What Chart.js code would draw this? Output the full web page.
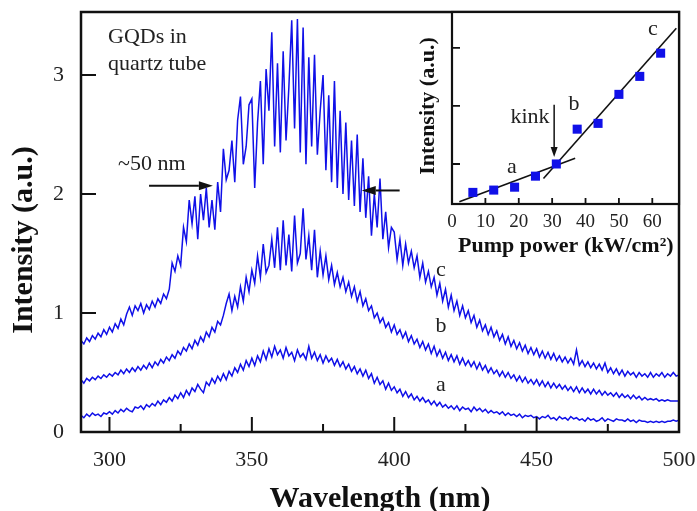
<!DOCTYPE html>
<html><head><meta charset="utf-8">
<script src="https://cdn.jsdelivr.net/npm/chart.js@4.4.1/dist/chart.umd.min.js"></script>
<style>
html,body{margin:0;padding:0;background:#fff;}
#wrap{position:relative;width:697px;height:511px;overflow:hidden;}
#main{position:absolute;left:0;top:0;}
#inset{position:absolute;left:400px;top:0;}
</style></head><body>
<div id="wrap"><canvas id="main" width="697" height="511"></canvas><canvas id="inset" width="297" height="260"></canvas></div>
<script>
// ---- data ----
const wavelengths = [];
for (let w = 290; w <= 500; w++) wavelengths.push(w);

const seriesA = [
0.14,0.12,0.15,0.13,0.16,0.14,0.15,0.13,0.16,0.15,
0.17,0.15,0.18,0.16,0.19,0.17,0.20,0.18,0.17,0.21,
0.20,0.22,0.19,0.23,0.21,0.24,0.22,0.26,0.23,0.27,
0.25,0.29,0.26,0.31,0.28,0.33,0.29,0.35,0.31,0.37,
0.34,0.40,0.36,0.33,0.42,0.39,0.45,0.41,0.47,0.43,
0.49,0.44,0.51,0.47,0.54,0.50,0.57,0.52,0.60,0.55,
0.62,0.56,0.64,0.59,0.68,0.61,0.70,0.63,0.72,0.65,
0.69,0.62,0.71,0.64,0.67,0.60,0.69,0.63,0.66,0.61,
0.72,0.62,0.67,0.60,0.65,0.58,0.64,0.59,0.62,0.56,
0.61,0.55,0.59,0.53,0.57,0.51,0.55,0.49,0.53,0.47,
0.52,0.45,0.49,0.41,0.46,0.40,0.43,0.36,0.41,0.35,
0.38,0.33,0.36,0.30,0.34,0.29,0.32,0.27,0.30,0.26,
0.29,0.25,0.27,0.23,0.26,0.22,0.25,0.21,0.23,0.20,
0.22,0.19,0.22,0.18,0.21,0.19,0.20,0.17,0.21,0.18,
0.20,0.17,0.19,0.16,0.18,0.16,0.17,0.15,0.17,0.14,
0.16,0.14,0.15,0.13,0.15,0.12,0.14,0.13,0.14,0.12,
0.13,0.11,0.13,0.12,0.14,0.11,0.12,0.10,0.13,0.11,
0.12,0.10,0.13,0.11,0.12,0.10,0.11,0.09,0.12,0.10,
0.11,0.09,0.10,0.12,0.09,0.11,0.10,0.09,0.11,0.10,
0.10,0.09,0.11,0.09,0.10,0.08,0.10,0.09,0.09,0.08,
0.09,0.08,0.09,0.08,0.09,0.08,0.09,0.09,0.10,0.09,
0.10];

const seriesB = [
0.44,0.41,0.45,0.43,0.46,0.44,0.47,0.45,0.48,0.46,
0.49,0.47,0.50,0.48,0.52,0.49,0.53,0.50,0.54,0.51,
0.55,0.52,0.56,0.53,0.58,0.54,0.59,0.56,0.61,0.58,
0.63,0.60,0.65,0.62,0.68,0.65,0.71,0.68,0.74,0.70,
0.77,0.73,0.80,0.76,0.84,0.80,0.88,0.84,0.93,0.90,
0.98,1.08,1.16,1.02,1.14,1.05,1.22,1.10,1.30,1.18,
1.36,1.25,1.48,1.30,1.58,1.34,1.40,1.62,1.38,1.72,
1.36,1.78,1.40,1.66,1.35,1.82,1.42,1.50,1.88,1.45,
1.65,1.36,1.70,1.30,1.52,1.32,1.48,1.28,1.40,1.24,
1.34,1.22,1.30,1.18,1.26,1.14,1.22,1.10,1.18,1.06,
1.12,1.02,1.06,0.96,1.00,0.92,0.96,0.88,0.92,0.84,
0.90,0.82,0.86,0.79,0.84,0.76,0.81,0.74,0.78,0.71,
0.76,0.69,0.74,0.66,0.72,0.64,0.69,0.62,0.67,0.60,
0.65,0.59,0.64,0.57,0.62,0.56,0.60,0.55,0.59,0.53,
0.58,0.52,0.56,0.50,0.54,0.49,0.52,0.47,0.51,0.46,
0.50,0.45,0.48,0.43,0.47,0.42,0.46,0.41,0.44,0.40,
0.44,0.39,0.43,0.38,0.42,0.37,0.41,0.37,0.40,0.36,
0.39,0.35,0.38,0.34,0.38,0.33,0.37,0.33,0.36,0.32,
0.36,0.32,0.35,0.31,0.34,0.31,0.33,0.30,0.33,0.29,
0.32,0.29,0.31,0.28,0.31,0.28,0.30,0.27,0.29,0.27,
0.28,0.27,0.28,0.26,0.27,0.26,0.27,0.26,0.26,0.26,
0.26];

const seriesC = [
0.77,0.74,0.79,0.76,0.81,0.78,0.83,0.80,0.86,0.82,
0.88,0.84,0.91,0.87,0.95,0.90,0.99,1.05,0.98,1.06,
1.02,1.08,1.00,1.07,1.03,1.10,1.05,1.12,1.08,1.16,
1.12,1.20,1.42,1.35,1.48,1.40,1.72,1.60,1.95,1.75,
1.98,1.62,2.00,1.78,2.05,1.72,1.95,1.70,2.10,1.85,
2.38,2.12,2.20,2.45,2.10,2.62,2.82,2.25,2.40,2.75,
2.80,2.05,2.60,2.95,2.25,3.05,2.70,3.36,2.40,3.10,
2.35,3.20,2.45,2.90,3.46,2.55,3.47,2.35,3.40,2.25,
3.15,2.40,3.17,2.33,2.70,3.00,2.20,2.83,2.10,2.95,
2.05,2.70,2.00,2.60,1.95,2.45,1.90,2.50,1.85,2.30,
1.80,2.15,1.65,2.00,1.72,2.13,1.62,1.85,1.55,1.72,
1.68,1.45,1.62,1.40,1.58,1.42,1.52,1.38,1.48,1.30,
1.42,1.26,1.35,1.22,1.30,1.15,1.25,1.10,1.20,1.05,
1.15,1.02,1.10,0.98,1.06,0.96,1.02,0.92,0.98,0.88,
0.94,0.85,0.90,0.82,0.88,0.80,0.85,0.77,0.82,0.74,
0.80,0.72,0.77,0.70,0.75,0.68,0.73,0.66,0.71,0.65,
0.70,0.63,0.68,0.62,0.67,0.61,0.66,0.60,0.64,0.59,
0.63,0.58,0.62,0.57,0.69,0.56,0.60,0.55,0.59,0.54,
0.58,0.53,0.57,0.52,0.58,0.50,0.54,0.49,0.53,0.48,
0.52,0.47,0.51,0.48,0.50,0.46,0.50,0.47,0.49,0.46,
0.50,0.46,0.49,0.47,0.50,0.46,0.49,0.47,0.50,0.47,
0.48];

const mainXTicks = [300, 350, 400, 450, 500];
const mainXMinorTicks = [325, 375, 425, 475];
const mainYTicks = [0, 1, 2, 3];

const pumpPower = [6.25, 12.5, 18.75, 25, 31.25, 37.5, 43.75, 50, 56.25, 62.5];
const insetIntensity = [0.51, 0.55, 0.60, 0.79, 1.00, 1.60, 1.70, 2.20, 2.51, 2.91];
const fitLowX = [2.2, 36.9];
const fitLowY = [0.35, 1.10];
const fitHighX = [27.4, 67.2];
const fitHighY = [0.75, 3.34];
const insetXTicks = [0, 10, 20, 30, 40, 50, 60];
const insetYTicks = [1, 2, 3];

// ---- drawing ----
const BLUE = 'rgb(16,16,232)';
const SERIF = '"Liberation Serif", "Times New Roman", serif';
const pts = (xs, ys) => xs.map((x, i) => ({x: x, y: ys[i]}));
function noPad(s) { s.paddingTop = 0; s.paddingBottom = 0; s.paddingLeft = 0; s.paddingRight = 0; }

function arrow(ctx, x1, y1, x2, y2, len, half) {
  const a = Math.atan2(y2 - y1, x2 - x1);
  const bx = x2 - len * Math.cos(a), by = y2 - len * Math.sin(a);
  ctx.beginPath(); ctx.moveTo(x1, y1); ctx.lineTo(bx, by); ctx.stroke();
  ctx.beginPath();
  ctx.moveTo(x2, y2);
  ctx.lineTo(bx + half * Math.sin(a), by - half * Math.cos(a));
  ctx.lineTo(bx - half * Math.sin(a), by + half * Math.cos(a));
  ctx.closePath(); ctx.fill();
}

const mainDecor = {
  id: 'mainDecor',
  afterDraw(chart) {
    const ctx = chart.ctx, ca = chart.chartArea;
    const xs = chart.scales.x, ys = chart.scales.y;
    ctx.save();
    ctx.strokeStyle = '#111'; ctx.fillStyle = '#111';
    ctx.lineWidth = 2.5;
    ctx.strokeRect(ca.left, ca.top, ca.right - ca.left, ca.bottom - ca.top);
    ctx.lineWidth = 2;
    ctx.beginPath();
    mainXTicks.forEach(v => { const p = xs.getPixelForValue(v); ctx.moveTo(p, ca.bottom); ctx.lineTo(p, ca.bottom - 15); });
    mainXMinorTicks.forEach(v => { const p = xs.getPixelForValue(v); ctx.moveTo(p, ca.bottom); ctx.lineTo(p, ca.bottom - 8); });
    mainYTicks.forEach(v => { const p = ys.getPixelForValue(v); ctx.moveTo(ca.left, p); ctx.lineTo(ca.left + 15, p); });
    ctx.stroke();

    // arrows marking ~50 nm
    ctx.lineWidth = 2;
    arrow(ctx, xs.getPixelForValue(313.9), ys.getPixelForValue(2.07), xs.getPixelForValue(336.3), ys.getPixelForValue(2.07), 14, 4.5);
    arrow(ctx, xs.getPixelForValue(401.9), ys.getPixelForValue(2.03), xs.getPixelForValue(388.6), ys.getPixelForValue(2.03), 14, 4.5);

    // texts
    ctx.fillStyle = '#222';
    ctx.font = '22px ' + SERIF;
    ctx.textAlign = 'left'; ctx.textBaseline = 'alphabetic';
    ctx.fillText('GQDs in', 108, 43);
    ctx.fillText('quartz tube', 108, 70);
    ctx.fillText('~50 nm', 118, 170);
    ctx.textAlign = 'center';
    ctx.fillText('c', 441, 276);
    ctx.fillText('b', 441, 332);
    ctx.fillText('a', 441, 391);

    // axis titles
    ctx.fillStyle = '#111';
    ctx.font = 'bold 30px ' + SERIF;
    ctx.textAlign = 'center';
    ctx.fillText('Wavelength (nm)', 380, 507);
    ctx.translate(24, 240); ctx.rotate(-Math.PI / 2);
    ctx.textBaseline = 'middle';
    ctx.fillText('Intensity (a.u.)', 0, 0);
    ctx.restore();
  }
};

new Chart(document.getElementById('main'), {
  type: 'line',
  data: {
    datasets: [
      {label: 'a', data: pts(wavelengths, seriesA)},
      {label: 'b', data: pts(wavelengths, seriesB)},
      {label: 'c', data: pts(wavelengths, seriesC)}
    ].map(d => Object.assign(d, {borderColor: BLUE, borderWidth: 1.5, pointRadius: 0, tension: 0, fill: false}))
  },
  options: {
    responsive: false, animation: false, devicePixelRatio: 1,
    layout: {padding: {top: 12, right: 18, left: 0, bottom: 0}},
    plugins: {legend: {display: false}, tooltip: {enabled: false}},
    scales: {
      x: {
        type: 'linear', min: 290, max: 500,
        afterBuildTicks: s => { s.ticks = mainXTicks.map(v => ({value: v})); },
        afterFit: s => { s.height = 79; noPad(s); },
        grid: {display: false, drawTicks: false}, border: {display: false},
        ticks: {font: {family: SERIF, size: 22}, color: '#222', padding: 15, maxRotation: 0, autoSkip: false}
      },
      y: {
        type: 'linear', min: 0, max: 3.53,
        afterBuildTicks: s => { s.ticks = mainYTicks.map(v => ({value: v})); },
        afterFit: s => { s.width = 81; noPad(s); },
        grid: {display: false, drawTicks: false}, border: {display: false},
        ticks: {font: {family: SERIF, size: 22}, color: '#222', padding: 17}
      }
    }
  },
  plugins: [mainDecor]
});

const insetDecor = {
  id: 'insetDecor',
  beforeDraw(chart) {
    const ctx = chart.ctx, ca = chart.chartArea;
    ctx.save(); ctx.fillStyle = '#fff';
    ctx.fillRect(ca.left, ca.top, ca.right - ca.left, ca.bottom - ca.top);
    ctx.restore();
  },
  afterDraw(chart) {
    const ctx = chart.ctx, ca = chart.chartArea;
    const xs = chart.scales.x, ys = chart.scales.y;
    const ox = 400;
    ctx.save();
    ctx.strokeStyle = '#111'; ctx.fillStyle = '#111';
    ctx.lineWidth = 2.2;
    ctx.strokeRect(ca.left, ca.top, ca.right - ca.left, ca.bottom - ca.top);
    ctx.lineWidth = 1.8;
    ctx.beginPath();
    insetXTicks.forEach(v => { const p = xs.getPixelForValue(v); ctx.moveTo(p, ca.bottom); ctx.lineTo(p, ca.bottom - 6); });
    insetYTicks.forEach(v => { const p = ys.getPixelForValue(v); ctx.moveTo(ca.left, p); ctx.lineTo(ca.left + 8, p); });
    ctx.stroke();

    // kink arrow
    ctx.lineWidth = 1.5;
    arrow(ctx, xs.getPixelForValue(30.6), ys.getPixelForValue(2.02), xs.getPixelForValue(30.6), ys.getPixelForValue(1.12), 10, 3.5);

    ctx.fillStyle = '#222';
    ctx.font = '22px ' + SERIF;
    ctx.textAlign = 'center'; ctx.textBaseline = 'alphabetic';
    ctx.fillText('kink', 530 - ox, 123);
    ctx.fillText('a', 512 - ox, 173);
    ctx.fillText('b', 574 - ox, 110);
    ctx.fillText('c', 653 - ox, 35);

    ctx.fillStyle = '#111';
    ctx.font = 'bold 22px ' + SERIF;
    ctx.textAlign = 'left';
    ctx.fillText('Pump power (kW/cm\u00B2)', 458 - ox, 252);
    ctx.textAlign = 'center'; ctx.textBaseline = 'middle';
    ctx.translate(428 - ox, 106); ctx.rotate(-Math.PI / 2);
    ctx.fillText('Intensity (a.u.)', 0, 0);
    ctx.restore();
  }
};

new Chart(document.getElementById('inset'), {
  type: 'scatter',
  data: {
    datasets: [
      {label: 'data', data: pts(pumpPower, insetIntensity), pointStyle: 'rect', pointRadius: 6.4,
       backgroundColor: BLUE, borderColor: BLUE, borderWidth: 0, showLine: false},
      {label: 'fit1', data: pts(fitLowX, fitLowY), showLine: true, borderColor: '#111', borderWidth: 1.6, pointRadius: 0},
      {label: 'fit2', data: pts(fitHighX, fitHighY), showLine: true, borderColor: '#111', borderWidth: 1.6, pointRadius: 0}
    ]
  },
  options: {
    responsive: false, animation: false, devicePixelRatio: 1,
    layout: {padding: {top: 12, right: 18, left: 0, bottom: 0}},
    plugins: {legend: {display: false}, tooltip: {enabled: false}},
    scales: {
      x: {
        type: 'linear', min: 0, max: 68,
        afterBuildTicks: s => { s.ticks = insetXTicks.map(v => ({value: v})); },
        afterFit: s => { s.height = 56; noPad(s); },
        grid: {display: false, drawTicks: false}, border: {display: false},
        ticks: {font: {family: SERIF, size: 19}, color: '#222', padding: 7, maxRotation: 0, autoSkip: false}
      },
      y: {
        type: 'linear', min: 0.31, max: 3.62,
        afterBuildTicks: s => { s.ticks = insetYTicks.map(v => ({value: v})); },
        afterFit: s => { s.width = 52; noPad(s); },
        grid: {display: false, drawTicks: false}, border: {display: false},
        ticks: {display: false}
      }
    }
  },
  plugins: [insetDecor]
});
</script>
</body></html>
